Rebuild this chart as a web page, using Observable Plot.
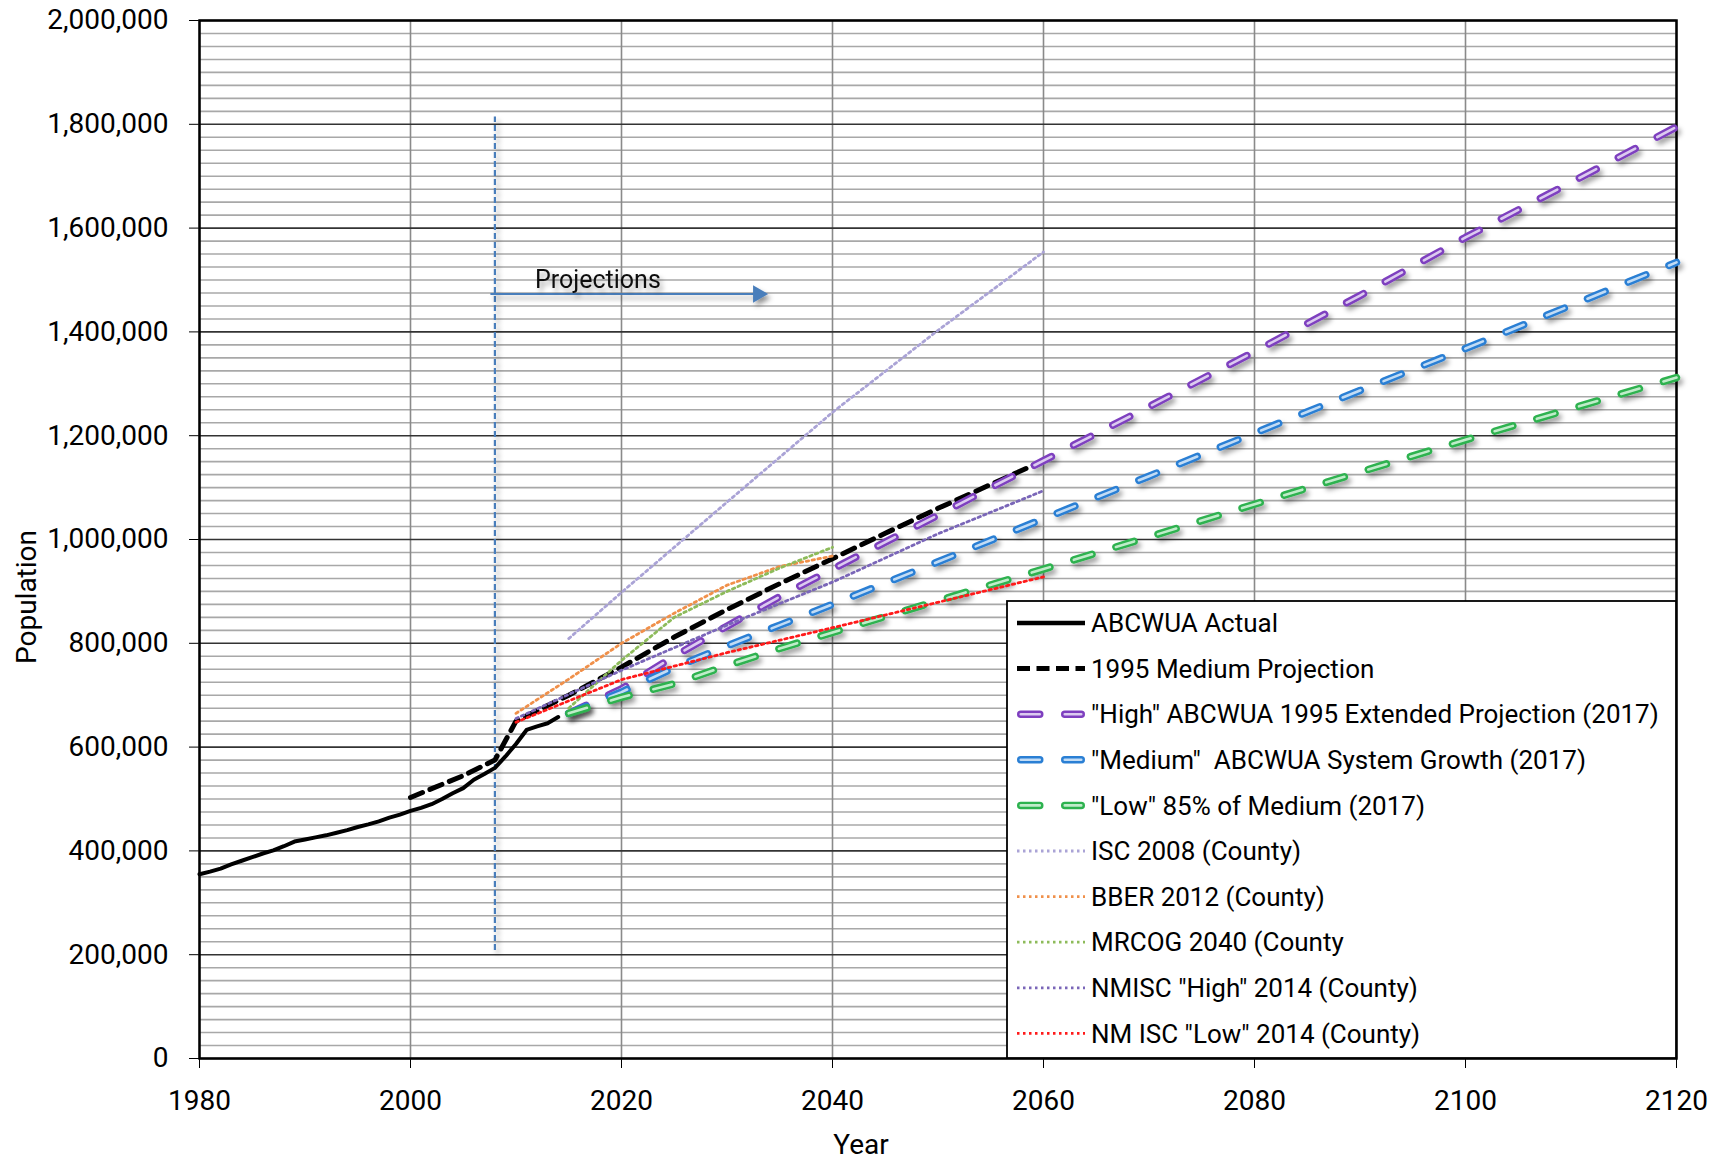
<!DOCTYPE html>
<html>
<head>
<meta charset="utf-8">
<script src="https://cdn.jsdelivr.net/npm/d3@7"></script>
<script src="https://cdn.jsdelivr.net/npm/@observablehq/plot@0.6"></script>
<style>
html, body { margin: 0; padding: 0; background: #fff; }
#chart { position: relative; width: 1723px; height: 1160px; }
</style>
</head>
<body>
<div id="chart"></div>
<script>
// ---------------- DATA ----------------
const actualYears = [1980,1981,1982,1983,1984,1985,1986,1987,1988,1989,1990,1991,1992,1993,1994,1995,1996,1997,1998,1999,2000,2001,2002,2003,2004,2005,2006,2007,2008,2009,2010,2011,2012,2013,2014];
const actualPop   = [355000,360000,366000,374000,381000,388000,395000,401000,409000,418000,422000,426000,430000,435000,440000,446000,451000,457000,464000,470000,477000,483000,490000,500000,511000,521000,537000,548000,560000,582000,606000,633000,640000,646000,658000];

const med1995Years = [2000,2005,2008,2010,2015,2020,2025,2030,2035,2040,2045,2050,2055,2060];
const med1995Pop   = [503000,545000,575000,650000,700000,754000,812000,865000,915000,963000,1012000,1060000,1106000,1152000];

const highYears = [2015,2020,2025,2030,2035,2040,2045,2050,2055,2060,2070,2080,2090,2100,2110,2120];
const highPop   = [665000,712000,775000,833000,890000,943000,995000,1047000,1100000,1152000,1256000,1362000,1470000,1582000,1688000,1795000];

const mediumYears = [2015,2020,2025,2030,2035,2040,2050,2060,2070,2080,2090,2100,2110,2120];
const mediumPop   = [665000,706000,753000,795000,835000,875000,957000,1040000,1122000,1205000,1287000,1368000,1451000,1534000];

const lowYears = [2015,2020,2025,2030,2035,2040,2050,2060,2070,2080,2090,2100,2110,2120];
const lowPop   = [665000,696000,722000,757000,790000,821000,882000,943000,1005000,1068000,1130000,1192000,1252000,1312000];

const isc2008Years = [2015,2020,2030,2040,2050,2060];
const isc2008Pop   = [809000,898000,1072000,1245000,1403000,1554000];

const bber2012Years = [2010,2015,2020,2025,2030,2035,2040];
const bber2012Pop   = [665000,731000,800000,858000,912000,948000,968000];

const mrcogYears = [2015,2020,2025,2030,2035,2040];
const mrcogPop   = [675000,767000,850000,900000,945000,985000];

const nmiscHighYears = [2010,2020,2030,2040,2050,2060];
const nmiscHighPop   = [655000,748000,835000,918000,1011000,1094000];

const nmiscLowYears = [2010,2020,2030,2040,2050,2060];
const nmiscLowPop   = [648000,730000,782000,830000,879000,928000];

// annotation
const projectionStartYear = 2008;
const projectionRulePop = [208000, 1814000];
const arrowYears = [2008, 2033.8];
const arrowPop = 1473000;
const projectionLabel = "Projections";
const projectionLabelYear = 2011.8;
const projectionLabelPop = 1500000;

// axes
const xTickYears = [1980,2000,2020,2040,2060,2080,2100,2120];
const yMajorTicks = [0,200000,400000,600000,800000,1000000,1200000,1400000,1600000,1800000,2000000];
const yMinorStep = 25000;

const seriesNames = [
  "ABCWUA Actual",
  "1995 Medium Projection",
  "\"High\" ABCWUA 1995 Extended Projection (2017)",
  "\"Medium\"  ABCWUA System Growth (2017)",
  "\"Low\" 85% of Medium (2017)",
  "ISC 2008 (County)",
  "BBER 2012 (County)",
  "MRCOG 2040 (County",
  "NMISC \"High\" 2014 (County)",
  "NM ISC \"Low\" 2014 (County)"
];
const xLabel = "Year";
const yLabel = "Population";

// ---------------- STYLES ----------------
const COL = {
  purple: "#7e3fbf", purpleLight: "#dccbf0",
  blue: "#2a7fd4", blueLight: "#c2dcf5",
  green: "#2db24f", greenLight: "#c0ecca",
  isc: "#aaa3d6", bber: "#f0904a", mrcog: "#8dbb5a", nmHigh: "#7a66b8", nmLow: "#ff1a1a",
  proj: "#4a7ebb"
};
const FONT = "Roboto, 'Noto Sans', sans-serif";

const zip = (xs, ys) => xs.map((x, i) => ({x, y: ys[i]}));
const actual = zip(actualYears, actualPop);
const med1995 = zip(med1995Years, med1995Pop);
const high = zip(highYears, highPop);
const medium = zip(mediumYears, mediumPop);
const low = zip(lowYears, lowPop);
const isc = zip(isc2008Years, isc2008Pop);
const bber = zip(bber2012Years, bber2012Pop);
const mrcog = zip(mrcogYears, mrcogPop);
const nmHigh = zip(nmiscHighYears, nmiscHighPop);
const nmLow = zip(nmiscLowYears, nmiscLowPop);

const yMinor = d3.range(0, 2000001, yMinorStep).filter(v => v % 200000 !== 0);

const DASH_C = "19,25";
const DOT = "2.5,3.5";
function compound(data, c, light) {
  return [
    Plot.line(data, {x: "x", y: "y", stroke: c, strokeWidth: 7.5, strokeDasharray: DASH_C, strokeLinecap: "round"}),
    Plot.line(data, {x: "x", y: "y", stroke: light, strokeWidth: 2.6, strokeDasharray: DASH_C, strokeLinecap: "round"})
  ];
}
function dotted(data, c) {
  return Plot.line(data, {x: "x", y: "y", stroke: c, strokeWidth: 2.8, strokeDasharray: DOT});
}

const W = 1723, H = 1160;
const chart = Plot.plot({
  width: W, height: H,
  marginLeft: 199, marginRight: 47, marginTop: 20, marginBottom: 102,
  style: {fontFamily: FONT, fontSize: "28px", color: "#000", background: "#fff", overflow: "visible"},
  x: {domain: [1980, 2120], ticks: xTickYears, tickFormat: d => String(d), tickSize: 10, tickPadding: 22, label: null},
  y: {domain: [0, 2000000], ticks: yMajorTicks, tickFormat: d3.format(","), tickSize: 10, tickPadding: 21, label: null},
  marks: [
    Plot.ruleY(yMinor, {stroke: "#a8a8a8", strokeWidth: 1.6}),
    Plot.ruleX(xTickYears, {stroke: "#8a8a8a", strokeWidth: 1.6}),
    Plot.ruleY(yMajorTicks, {stroke: "#333", strokeWidth: 1.6}),
    Plot.frame({stroke: "#000", strokeWidth: 2.5}),
    // projection annotation
    Plot.ruleX([projectionStartYear], {y1: projectionRulePop[0], y2: projectionRulePop[1], stroke: COL.proj, strokeWidth: 2.2, strokeDasharray: "6,3"}),
    Plot.ruleY([arrowPop], {x1: arrowYears[0], x2: arrowYears[1], stroke: COL.proj, strokeWidth: 2.2, dx: -4}),
    Plot.dot([arrowPop], {x: arrowYears[1], y: d => d, symbol: "triangle", rotate: 90, r: 6.5, fill: COL.proj, stroke: "none", dx: -9}),
    Plot.text([projectionLabel], {x: projectionLabelYear, y: projectionLabelPop, text: d => d, textAnchor: "start", fontSize: 25, fill: "#111"}),
    // series
    Plot.line(actual, {x: "x", y: "y", stroke: "#000", strokeWidth: 4, strokeLinejoin: "round"}),
    Plot.line(med1995, {x: "x", y: "y", stroke: "#000", strokeWidth: 5, strokeDasharray: "13,8"}),
    ...compound(high, COL.purple, COL.purpleLight),
    ...compound(medium, COL.blue, COL.blueLight),
    ...compound(low, COL.green, COL.greenLight),
    dotted(isc, COL.isc),
    dotted(bber, COL.bber),
    dotted(mrcog, COL.mrcog),
    dotted(nmHigh, COL.nmHigh),
    dotted(nmLow, COL.nmLow)
  ]
});
document.getElementById("chart").appendChild(chart);

// ---------------- POST: shadows, legend, axis titles ----------------
const svg = d3.select(chart);
const defs = svg.insert("defs", ":first-child");
const f = defs.append("filter").attr("id", "shadow").attr("filterUnits", "userSpaceOnUse")
  .attr("x", 0).attr("y", 0).attr("width", W).attr("height", H);
f.append("feDropShadow").attr("dx", 3).attr("dy", 4).attr("stdDeviation", 2.5)
  .attr("flood-color", "#000").attr("flood-opacity", 0.35);

[COL.purple, COL.blue, COL.green, COL.proj].forEach(c => {
  svg.selectAll(`g[stroke="${c}"]`).attr("filter", "url(#shadow)");
});
svg.selectAll(`g[fill="${COL.proj}"]`).attr("filter", "url(#shadow)");
svg.selectAll('g[aria-label="text"]').filter(function() { return d3.select(this).text() === projectionLabel; }).attr("filter", "url(#shadow)");

// legend
const lg = svg.append("g").attr("class", "legend").attr("text-anchor", "start");
const L = {x: 1007, y: 601, w: 669, h: 457, sx1: 1017, sx2: 1085, tx: 1091, row0: 623, rowStep: 45.6};
lg.append("rect").attr("x", L.x).attr("y", L.y).attr("width", L.w).attr("height", L.h)
  .attr("fill", "#fff").attr("stroke", "#000").attr("stroke-width", 1.8);
const legendStyles = [
  {type: "solid"},
  {type: "dash"},
  {type: "compound", c: COL.purple, l: COL.purpleLight},
  {type: "compound", c: COL.blue, l: COL.blueLight},
  {type: "compound", c: COL.green, l: COL.greenLight},
  {type: "dot", c: COL.isc},
  {type: "dot", c: COL.bber},
  {type: "dot", c: COL.mrcog},
  {type: "dot", c: COL.nmHigh},
  {type: "dot", c: COL.nmLow}
];
seriesNames.forEach((name, i) => {
  const cy = L.row0 + i * L.rowStep;
  const s = legendStyles[i];
  const seg = (stroke, w, dash, cap) => lg.append("line")
    .attr("x1", s.type === "compound" ? L.sx1 + 3.75 : L.sx1).attr("x2", s.type === "compound" ? L.sx2 - 3.75 : L.sx2)
    .attr("y1", cy).attr("y2", cy).attr("stroke", stroke).attr("stroke-width", w)
    .attr("stroke-dasharray", dash || null).attr("stroke-linecap", cap || "butt");
  if (s.type === "solid") seg("#000", 4.5);
  else if (s.type === "dash") seg("#000", 5, "13,6.5");
  else if (s.type === "compound") { seg(s.c, 7.5, "19,25", "round"); seg(s.l, 2.6, "19,25", "round"); }
  else seg(s.c, 2.8, DOT);
  lg.append("text").attr("x", L.tx).attr("y", cy + 9.2).attr("text-anchor", "start")
    .attr("font-family", FONT).attr("font-size", 26).attr("fill", "#000")
    .style("white-space", "pre").text(name);
});

// axis titles
svg.append("text").attr("transform", "translate(36,597) rotate(-90)")
  .attr("text-anchor", "middle").attr("font-family", FONT).attr("font-size", 28).attr("fill", "#000").text(yLabel);
svg.append("text").attr("x", 861).attr("y", 1154)
  .attr("text-anchor", "middle").attr("font-family", FONT).attr("font-size", 28).attr("fill", "#000").text(xLabel);
</script>
</body>
</html>
